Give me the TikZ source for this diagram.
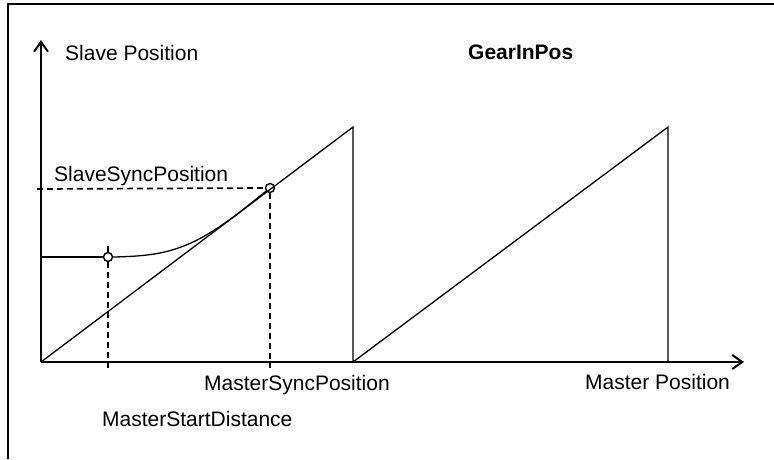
\documentclass[tikz,border=0pt]{standalone}
\usepackage{fontspec}
\setmainfont{Liberation Sans}
\usetikzlibrary{arrows.meta}

\begin{document}
\begin{tikzpicture}[x=1pt, y=-1pt,
    every node/.style={font=\fontsize{21}{25}\selectfont, inner sep=0pt},
    axis/.style={line width=1.5pt, -{Straight Barb[length=10pt,width=14pt,line width=2pt]}},
    guide/.style={line width=1.7pt, dash pattern=on 6pt off 4pt},
    ringpt/.style={circle, draw, line width=1.4pt, minimum size=9pt},
    plot/.style={line width=1.3pt}]
				\useasboundingbox (0,0) rectangle (774,459);
				\draw[line width=1.8pt] (8,459) -- (8,4) -- (774,4);
				
				\coordinate (o) at (41,362);
				\coordinate (ytip) at (41,40);
				\coordinate (xtip) at (744,362);
				\coordinate (top1) at (353,127);
				\coordinate (bot1) at (353,362);
				\coordinate (top2) at (668,127);
				\coordinate (bot2) at (668,362);
				\coordinate (ytick) at (37,189);
				\coordinate (curvestart) at (41,257);
				\coordinate (tangent) at (240,212);
				\coordinate (startfoot) at (108,368);
				\coordinate (starthead) at (108,246);
				\coordinate (syncfoot) at (270,368);
				
				\node[ringpt] (start) at (108,257) {};
				\node[ringpt] (sync) at (270,188) {};
				
				\node[anchor=base west] (slavepos) at (65,60) {Slave Position};
				\node[anchor=base west, font=\fontsize{21}{25}\selectfont\bfseries] (title) at (468,59) {GearInPos};
				\node[anchor=base west] (slavesync) at (54,181) {SlaveSyncPosition};
				\node[anchor=base west] (mastersync) at (204,390) {MasterSyncPosition};
				\node[anchor=base west] (masterstart) at (102,426) {MasterStartDistance};
				\node[anchor=base west] (masterpos) at (585,389) {Master Position};
				
				\draw[axis] (o) -- (ytip);
				\draw[axis] (o) -- (xtip);
				\draw[plot] (o) -- (top1) -- (bot1) -- (top2) -- (bot2);
				
				\draw[guide] (ytick) -- (sync.west);
				\draw[guide] (sync.south) -- (syncfoot);
				\draw[guide] (starthead) -- (start.north);
				\draw[guide] (start.south) -- (startfoot);
				
				\draw[plot] (curvestart) -- (start.west);
				\draw[plot] (start.east) .. controls (165,256) and (190,250) .. (tangent) -- (sync);
			\end{tikzpicture}
\end{document}
